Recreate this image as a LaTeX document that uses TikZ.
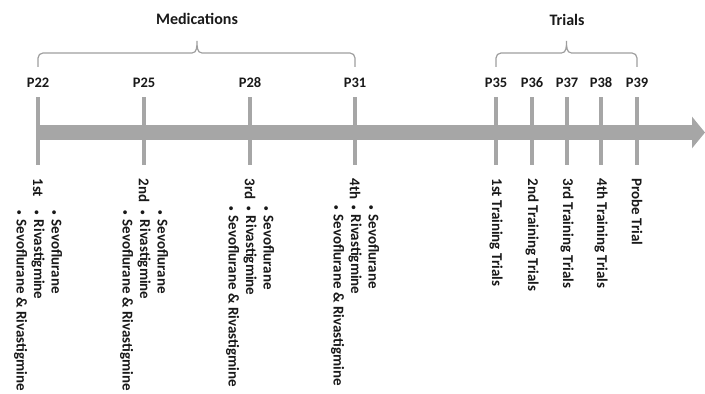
\documentclass[tikz,border=0pt]{standalone}
\usepackage{fontspec}
\setmainfont{Carlito}
\usetikzlibrary{arrows.meta, positioning}
\definecolor{axisgray}{RGB}{166,166,166}
\definecolor{bracegray}{RGB}{158,158,158}
\definecolor{textdark}{RGB}{25,25,25}
\newcommand{\drugdot}{{\fontsize{9}{9}\selectfont\textbullet}\hspace{5pt}}

\begin{document}
\begin{tikzpicture}[
    x=1pt, y=1pt,
    tick/.style={rectangle, fill=axisgray, inner sep=0, minimum width=3.5pt, minimum height=68pt},
    plabel/.style={inner sep=0, text=textdark, font=\bfseries\fontsize{14.5}{17}\selectfont},
    vlabel/.style={inner sep=0, rotate=-90, text=textdark, font=\bfseries\fontsize{15}{17.5}\selectfont},
    druglist/.style={vlabel, align=left},
    heading/.style={inner sep=0, text=textdark, font=\bfseries\fontsize{16}{19}\selectfont},
    bracket/.style={draw=bracegray, line width=1.2pt},
    axis/.style={draw=axisgray, line width=15pt, -{Triangle[length=13pt, width=31pt]}}
]
\useasboundingbox (0,0) rectangle (705,394);

% Time axis
\coordinate (start) at (36.5,261.5);
\coordinate (end) at (705,261.5);
\draw[axis] (start) -- (end);

% Medication days
\node[tick] (m1) at (38,263) {};
\node[tick] (m2) at (144,263) {};
\node[tick] (m3) at (250,263) {};
\node[tick] (m4) at (355,263) {};

% Trial days
\node[tick] (t1) at (496,263) {};
\node[tick] (t2) at (532,263) {};
\node[tick] (t3) at (567,263) {};
\node[tick] (t4) at (601,263) {};
\node[tick] (t5) at (637,263) {};

% Day labels
\node[plabel, above=9pt of m1] (p22) {P22};
\node[plabel, above=9pt of m2] (p25) {P25};
\node[plabel, above=9pt of m3] (p28) {P28};
\node[plabel, above=9pt of m4] (p31) {P31};
\node[plabel, above=9pt of t1] (p35) {P35};
\node[plabel, above=9pt of t2] (p36) {P36};
\node[plabel, above=9pt of t3] (p37) {P37};
\node[plabel, above=9pt of t4] (p38) {P38};
\node[plabel, above=9pt of t5] (p39) {P39};

% Medication rounds
\node[vlabel, below=13pt of m1, anchor=west] (r1) {1st};
\node[vlabel, below=13pt of m2, anchor=west] (r2) {2nd};
\node[vlabel, below=13pt of m3, anchor=west] (r3) {3rd};
\node[vlabel, below=13pt of m4, anchor=west] (r4) {4th};

\node[druglist, below=45pt of m1, anchor=west] (d1) {\drugdot Sevoflurane\\\drugdot Rivastigmine\\\drugdot Sevoflurane \& Rivastigmine};
\node[druglist, below=45pt of m2, anchor=west] (d2) {\drugdot Sevoflurane\\\drugdot Rivastigmine\\\drugdot Sevoflurane \& Rivastigmine};
\node[druglist, below=41pt of m3, anchor=west] (d3) {\drugdot Sevoflurane\\\drugdot Rivastigmine\\\drugdot Sevoflurane \& Rivastigmine};
\node[druglist, below=40pt of m4, anchor=west] (d4) {\drugdot Sevoflurane\\\drugdot Rivastigmine\\\drugdot Sevoflurane \& Rivastigmine};

% Trial sessions
\node[vlabel, below=13pt of t1, anchor=west] (s1) {1st Training Trials};
\node[vlabel, below=13pt of t2, anchor=west] (s2) {2nd Training Trials};
\node[vlabel, below=13pt of t3, anchor=west] (s3) {3rd Training Trials};
\node[vlabel, below=13pt of t4, anchor=west] (s4) {4th Training Trials};
\node[vlabel, below=13pt of t5, anchor=west] (s5) {Probe Trial};

% Braces
\draw[bracket] (38,327) -- (38,336) to[out=90,in=180] (43,341) -- (192,341)
    to[out=0,in=-90] (197,353) to[out=-90,in=180] (202,341) -- (350,341)
    to[out=0,in=90] (355,336) -- (355,327);
\draw[bracket] (496,327) -- (496,336) to[out=90,in=180] (501,341) -- (561.5,341)
    to[out=0,in=-90] (566.5,353) to[out=-90,in=180] (571.5,341) -- (632,341)
    to[out=0,in=90] (637,336) -- (637,327);

% Headings
\node[heading] (med) at (197,375) {Medications};
\node[heading] (tri) at (567,374) {Trials};

\end{tikzpicture}
\end{document}
